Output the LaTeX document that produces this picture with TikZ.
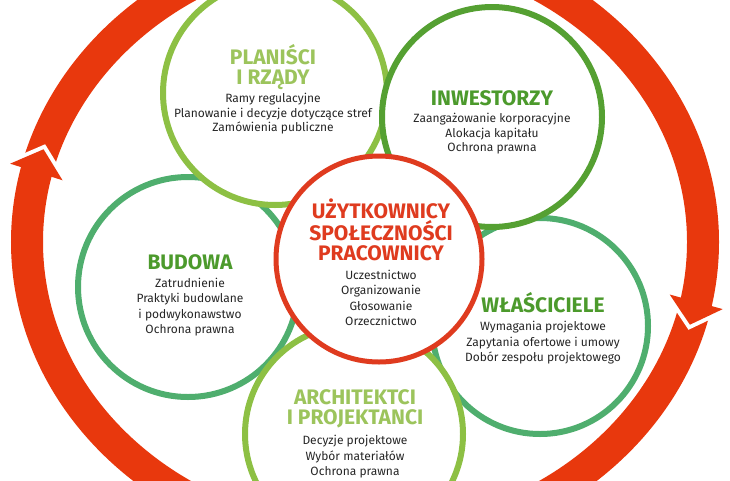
\documentclass[tikz,border=0pt]{standalone}
\usepackage{fontspec}
\setmainfont{Fira Sans}
\usetikzlibrary{positioning,calc}
\definecolor{ringred}{HTML}{E8380D}
\definecolor{corered}{HTML}{DF3B1F}
\definecolor{lightgreen}{HTML}{8DC044}
\definecolor{lighttitle}{HTML}{9CC45C}
\definecolor{midgreen}{HTML}{55A032}
\definecolor{darktitle}{HTML}{4C9A2C}
\definecolor{budgreen}{HTML}{4FAE6E}
\definecolor{txt}{HTML}{262626}
\tikzset{
  every picture/.style={
    line width=1pt
  },
  disc/.style={circle, draw=#1, fill=white, line width=6pt, inner sep=0pt},
  heading/.style={align=center, text=#1, font=\fontsize{21}{20}\selectfont\bfseries, inner sep=0pt},
  duties/.style={align=center, text=txt, font=\fontsize{12}{15.5}\selectfont, inner sep=0pt}
}
\begin{document}
\begin{tikzpicture}[x=1pt, y=-1pt]
  \useasboundingbox (0,0) rectangle (730,480);
  % outer cycle
  \draw[ringred, line width=32pt] (365,242) ellipse [x radius=338, y radius=300];
  \coordinate (ltip)  at ({365+338*cos(198)},{242+300*sin(198)});
  \coordinate (lbase) at ({365+338*cos(193.5)},{242+300*sin(193.5)});
  \coordinate (rtip)  at ({365+338*cos(16)},{242+300*sin(16)});
  \coordinate (rbase) at ({365+338*cos(11.5)},{242+300*sin(11.5)});
  \coordinate (lwa) at ($(lbase)!27.5pt!90:(ltip)$);
  \coordinate (lwb) at ($(lbase)!27.5pt!-90:(ltip)$);
  \coordinate (rwa) at ($(rbase)!27.5pt!90:(rtip)$);
  \coordinate (rwb) at ($(rbase)!27.5pt!-90:(rtip)$);
  \draw[white, line width=8pt] (lwa) -- (ltip) -- (lwb);
  \draw[white, line width=8pt] (rwa) -- (rtip) -- (rwb);
  \fill[ringred] (lwa) -- (ltip) -- (lwb) -- cycle;
  \fill[ringred] (rwa) -- (rtip) -- (rwb) -- cycle;

  \node[disc=budgreen, minimum size=220pt] (budowa) at (188,287) {};
  \node[disc=budgreen, minimum size=216pt] (wlasc) at (540,326) {};
  \node[disc=lightgreen, minimum size=224pt] (plan) at (275,93) {};
  \node[disc=midgreen, minimum size=220pt] (inwest) at (492,117) {};
  \node[disc=lightgreen, minimum size=218pt] (archit) at (354,434) {};
  \node[disc=corered, line width=5pt, minimum size=206pt] (core) at (379,259) {};

  \node[heading=lighttitle] (planT) at (273,67) {PLANIŚCI\\I RZĄDY};
  \node[duties, below=3pt of planT, font=\fontsize{12}{14.5}\selectfont] (planL) {Ramy regulacyjne\\Planowanie i decyzje dotyczące stref\\Zamówienia publiczne};

  \node[heading=darktitle] (inwestT) at (492,98) {INWESTORZY};
  \node[duties, below=7pt of inwestT, font=\fontsize{12}{14.5}\selectfont] (inwestL) {Zaangażowanie korporacyjne\\Alokacja kapitału\\Ochrona prawna};

  \node[heading=darktitle] (budowaT) at (190,262) {BUDOWA};
  \node[duties, below=7pt of budowaT] (budowaL) {Zatrudnienie\\Praktyki budowlane\\i podwykonawstwo\\Ochrona prawna};

  \node[heading=darktitle] (wlascT) at (543,303) {WŁAŚCICIELE};
  \node[duties, below=7pt of wlascT] (wlascL) {Wymagania projektowe\\Zapytania ofertowe i umowy\\Dobór zespołu projektowego};

  \node[heading=lighttitle] (architT) at (355,409) {ARCHITEKTCI\\I PROJEKTANCI};
  \node[duties, below=6pt of architT] (architL) {Decyzje projektowe\\Wybór materiałów\\Ochrona prawna};

  \node[heading=corered] (coreT) at (381,230) {UŻYTKOWNICY\\SPOŁECZNOŚCI\\PRACOWNICY};
  \node[duties, below=8pt of coreT] (coreL) {Uczestnictwo\\Organizowanie\\Głosowanie\\Orzecznictwo};
\end{tikzpicture}
\end{document}
